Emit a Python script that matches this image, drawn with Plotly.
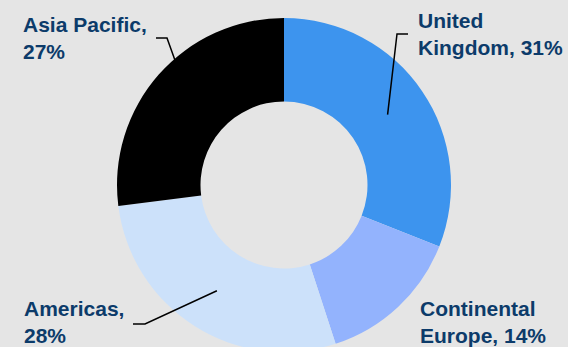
import math
import plotly.graph_objects as go

# ---- data ----
regions = ["United Kingdom", "Continental Europe", "Americas", "Asia Pacific"]
shares = [31, 14, 28, 27]
label_lines = ["United<br>Kingdom", "Continental<br>Europe", "Americas,<br>", "Asia Pacific,<br>"]

# ---- styles ----
colors = ["#3d94ee", "#93b3fd", "#cce1fa", "#000000"]
bg = "#e5e5e5"
text_color = "#0c3b6a"
W, H = 568, 370
MT, MB = 18, 18
CX = W / 2
CY = MT + (H - MT - MB) / 2
R = (H - MT - MB) / 2
HOLE = 0.5

def px(x, y):
    return x / W, (H - MB - y) / (H - MT - MB)

# label placement: (elbow x, elbow y, side, text gap, show line, text y shift)
placements = [
    (397, 34, "right", 11, True, 0),
    (None, 322, "right", 0, False, 0),
    (145, 324, "left", 12, True, -2),
    (167, 38, "left", 11, True, 0),
]
cont_label_x = 418

fig = go.Figure()
fig.add_trace(go.Pie(
    labels=regions, values=shares, sort=False, direction="clockwise", rotation=0,
    hole=HOLE, marker=dict(colors=colors, line=dict(width=0)),
    textinfo="none", hoverinfo="label+percent", showlegend=False,
    domain=dict(x=[0, 1], y=[0, 1]),
))

total = sum(shares)
cum = 0
shapes = []
annotations = []
for i, v in enumerate(shares):
    mid = (cum + v / 2) / total * 2 * math.pi
    cum += v
    rr = R * (1 + HOLE) / 2
    sx = CX + rr * math.sin(mid)
    sy = CY - rr * math.cos(mid)
    ex, ey, side, gap, show, dy = placements[i]
    if regions[i] == "Continental Europe":
        tx = cont_label_x
        ty = ey
    else:
        hx = ex + gap if side == "right" else ex - gap
        if show:
            x0, y0 = px(sx, sy)
            x1, y1 = px(ex, ey)
            x2, y2 = px(hx, ey)
            shapes.append(dict(type="path", xref="paper", yref="paper", layer="above",
                               path=f"M {x0} {y0} L {x1} {y1} L {x2} {y2}",
                               line=dict(color="black", width=1.5)))
        tx = hx + 8 if side == "right" else hx - 7
        ty = ey + dy
    ax_, ay_ = px(tx, ty)
    lbl = label_lines[i]
    if lbl.endswith("<br>"):
        text = f"{lbl}{v}%"
    else:
        text = f"{lbl}, {v}%"
    annotations.append(dict(
        x=ax_, y=ay_, xref="paper", yref="paper", showarrow=False,
        xanchor="left" if side == "right" else "right", yanchor="middle",
        align="left", text=f"<b>{text}</b>",
        font=dict(family="Liberation Sans, Arial, sans-serif", size=21, color=text_color),
    ))

fig.update_layout(
    width=W, height=H,
    margin=dict(l=0, r=0, t=MT, b=MB, pad=0),
    paper_bgcolor=bg, plot_bgcolor=bg,
    shapes=shapes, annotations=annotations,
    showlegend=False,
)

fig.write_html("out.html", post_script="document.documentElement.style.overflow='hidden';document.body.style.overflow='hidden';document.body.style.margin='0';")
